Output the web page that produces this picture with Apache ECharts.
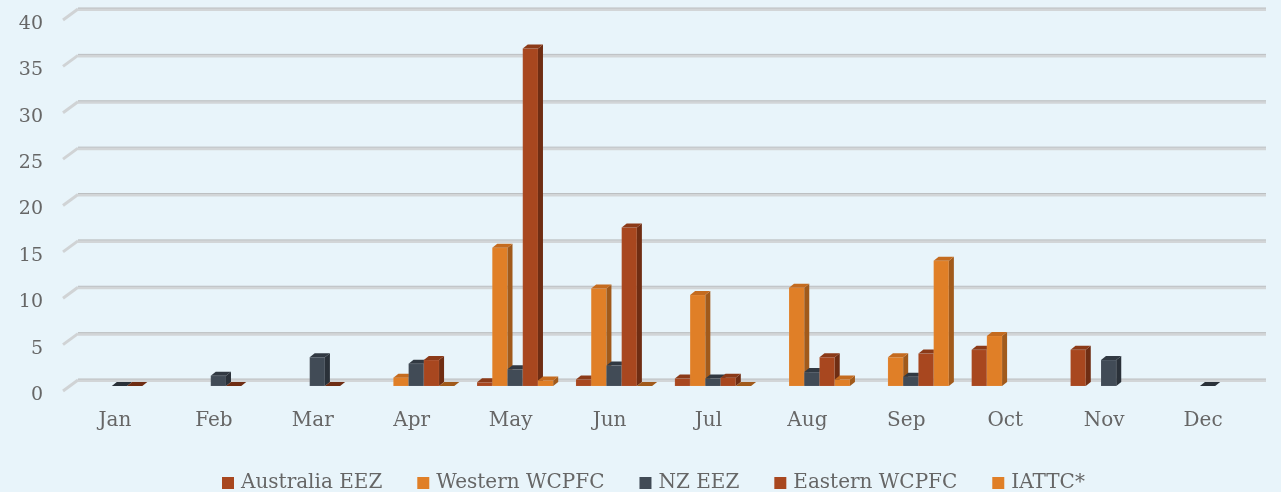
<!DOCTYPE html>
<html>
<head>
<meta charset="utf-8">
<script src="https://cdn.jsdelivr.net/npm/echarts@6/dist/echarts.min.js"></script>
<style>
  html, body { margin: 0; padding: 0; background: #e8f4fa; }
  #main { width: 1281px; height: 492px; }
</style>
</head>
<body>
<div id="main"></div>
<script>
  // categories and values
  const months = ['Jan', 'Feb', 'Mar', 'Apr', 'May', 'Jun', 'Jul', 'Aug', 'Sep', 'Oct', 'Nov', 'Dec'];
  const australiaEEZ = [null, null, null, null, 0.4, 0.7, 0.8, null, null, 3.9, 3.9, null];
  const westernWCPFC = [null, null, null, 0.9, 14.9, 10.5, 9.8, 10.6, 3.1, 5.4, null, null];
  const nzEEZ = [0, 1.1, 3.1, 2.4, 1.8, 2.2, 0.8, 1.5, 1.0, null, 2.8, 0];
  const easternWCPFC = [0, 0, 0, 2.8, 36.4, 17.1, 0.9, 3.1, 3.5, null, null, null];
  const iattc = [null, null, null, 0, 0.6, 0, 0, 0.7, 13.5, null, null, null];
  const yTicks = [0, 5, 10, 15, 20, 25, 30, 35, 40];

  const fontFamily = '"DejaVu Serif", serif';

  // face / side / top shades
  const rust = ['#a8471f', '#6f2d13', '#8b3a18'];
  const orange = ['#e07f27', '#a15a1b', '#c46b1f'];
  const slate = ['#414b56', '#2a3139', '#313942'];

  const seriesDefs = [
    { name: 'Australia EEZ', data: australiaEEZ, colors: rust },
    { name: 'Western WCPFC', data: westernWCPFC, colors: orange },
    { name: 'NZ EEZ', data: nzEEZ, colors: slate },
    { name: 'Eastern WCPFC', data: easternWCPFC, colors: rust },
    { name: 'IATTC*', data: iattc, colors: orange },
  ];

  const DX = 5, DY = 4;

  function makeBar(slot, colors) {
    return function (params, api) {
      const k = api.value(0);
      const v = api.value(1);
      const base = api.coord([k, 0]);
      const top = api.coord([k, v]);
      const band = api.size([1, 0])[0];
      const w = band * 0.154;
      const x0 = base[0] - 2.5 * w + slot * w;
      const x1 = x0 + w;
      const children = [];
      if (v > 0) {
        children.push({
          type: 'rect',
          shape: { x: x0, y: top[1], width: w, height: base[1] - top[1] },
          style: { fill: colors[0], stroke: 'rgba(255,255,255,0.15)', lineWidth: 0.6 }
        });
        children.push({
          type: 'polygon',
          shape: { points: [[x1, top[1]], [x1 + DX, top[1] - DY], [x1 + DX, base[1] - DY], [x1, base[1]]] },
          style: { fill: colors[1] }
        });
      }
      children.push({
        type: 'polygon',
        shape: { points: [[x0, top[1]], [x0 + DX, top[1] - DY], [x1 + DX, top[1] - DY], [x1, top[1]]] },
        style: { fill: v > 0 ? colors[2] : colors[1] }
      });
      return { type: 'group', children: children };
    };
  }

  const barSeries = seriesDefs.map(function (s, i) {
    const pts = [];
    s.data.forEach(function (v, k) {
      if (v !== null) pts.push([k, v]);
    });
    return {
      name: s.name,
      type: 'custom',
      xAxisIndex: 0,
      yAxisIndex: 0,
      renderItem: makeBar(i, s.colors),
      encode: { x: 0, y: 1 },
      itemStyle: { color: s.colors[0] },
      data: pts,
      z: 3
    };
  });

  // back wall grid lines with the slanted floor edge
  const wallSeries = {
    type: 'custom',
    xAxisIndex: 1,
    yAxisIndex: 1,
    silent: true,
    z: 1,
    data: yTicks.map(function (t) { return [0, t]; }),
    encode: { x: 0, y: 1 },
    renderItem: function (params, api) {
      const cs = params.coordSys;
      const y = api.coord([0, api.value(1)])[1];
      return {
        type: 'group',
        children: [
          {
            type: 'line',
            shape: { x1: cs.x - 15, y1: y + 11, x2: cs.x, y2: y },
            style: { stroke: '#d0d3d5', lineWidth: 3 }
          },
          {
            type: 'line',
            shape: { x1: cs.x, y1: y + 0.5, x2: cs.x + cs.width, y2: y + 0.5 },
            style: { stroke: '#d2d5d7', lineWidth: 3 }
          },
          {
            type: 'line',
            shape: { x1: cs.x, y1: y - 1, x2: cs.x + cs.width, y2: y - 1 },
            style: { stroke: '#bcbfc1', lineWidth: 1 }
          }
        ]
      };
    }
  };

  const chart = echarts.init(document.getElementById('main'));
  chart.setOption({
    backgroundColor: '#e8f4fa',
    animation: false,
    grid: [
      { left: 70, right: 24, top: 15, bottom: 106 },
      { left: 78, right: 15, top: 9, bottom: 112 }
    ],
    legend: {
      left: 217,
      top: 468,
      icon: 'rect',
      itemWidth: 12,
      itemHeight: 12,
      itemGap: 35,
      textStyle: { fontFamily: fontFamily, fontSize: 20, color: '#666', padding: [0, 0, 0, 2] },
      data: seriesDefs.map(function (s) { return s.name; })
    },
    xAxis: [
      {
        type: 'category',
        gridIndex: 0,
        data: months,
        axisLine: { show: false },
        axisTick: { show: false },
        axisLabel: { fontFamily: fontFamily, fontSize: 20, color: '#666', margin: 25, padding: [0, 9, 0, 0] }
      },
      { type: 'value', gridIndex: 1, min: 0, max: 1, show: false }
    ],
    yAxis: [
      {
        type: 'value',
        gridIndex: 0,
        min: 0,
        max: 40,
        interval: 5,
        axisLine: { show: false },
        axisTick: { show: false },
        splitLine: { show: false },
        axisLabel: {
          fontFamily: fontFamily, fontSize: 19, color: '#666', margin: 27,
          verticalAlign: 'top', lineHeight: 18
        }
      },
      { type: 'value', gridIndex: 1, min: 0, max: 40, show: false }
    ],
    series: [wallSeries].concat(barSeries)
  });
</script>
</body>
</html>
